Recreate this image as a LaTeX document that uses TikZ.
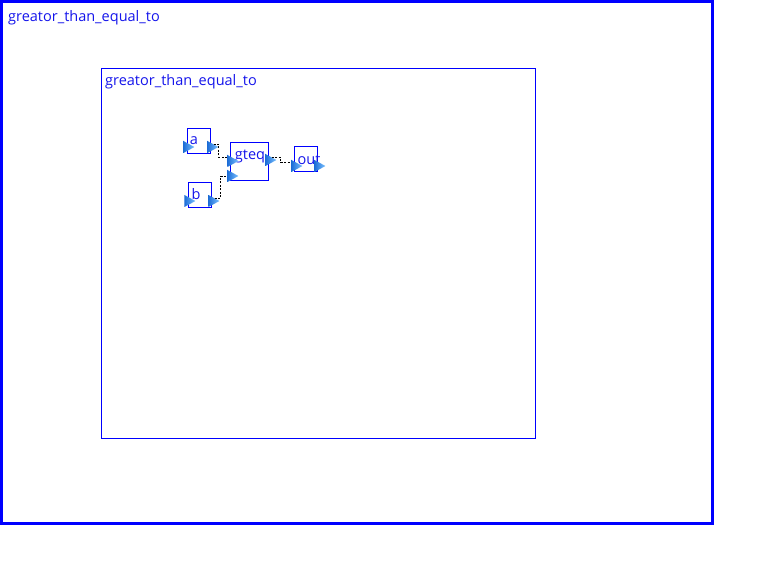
\documentclass[tikz,border=0pt]{standalone}
\usepackage{fontspec}
\setsansfont{Open Sans}
\usetikzlibrary{shapes.geometric}
\definecolor{lblue}{RGB}{20,20,235}
\definecolor{portdark}{RGB}{30,110,215}
\definecolor{portlight}{RGB}{125,195,255}

\begin{document}
\begin{tikzpicture}[x=1pt, y=-1pt,
                    every node/.style={font=\sffamily\fontsize{14.5}{16}\selectfont,
                                       text=lblue, inner sep=0pt},
                    blk/.style={draw=blue, line width=0.9pt, minimum width=#1},
                    port/.style={isosceles triangle, isosceles triangle stretches,
                                 shape border rotate=0, minimum width=12,
                                 minimum height=11, left color=portdark,
                                 right color=portlight},
                    wire/.style={draw=black, dashed, dash pattern=on 2pt off 1.5pt,
                                 line width=0.6pt}]
  \useasboundingbox (0,0) rectangle (764,577);
  \draw[blue, line width=3] (1.5,1.5) rectangle (712,524);
  \node[anchor=west] (title) at (8,18) {greator\_than\_equal\_to};
  \draw[blue, line width=0.9] (101.5,68.5) rectangle (535.5,438.5);
  \node[anchor=west] (subtitle) at (105,82) {greator\_than\_equal\_to};

  \node[blk=23, minimum height=25] (a) at (198.5,140.5) {};
  \node[blk=23, minimum height=25] (b) at (199.5,194.5) {};
  \node[blk=38, minimum height=38] (gteq) at (249,161) {};
  \node[blk=23, minimum height=25] (out) at (305.5,158.5) {};

  \node (atag) at (194,141) {a};
  \node (btag) at (196,194) {b};
  \node (gtag) at (250,156) {gteq};
  \node (otag) at (309,160) {out};

  \node[port] (ain) at (187,147) {};
  \node[port] (aout) at (211,147) {};
  \node[port] (bin) at (188,201) {};
  \node[port] (bout) at (212,201) {};
  \node[port] (gin1) at (231,161) {};
  \node[port] (gin2) at (231,176) {};
  \node[port] (gout) at (269,160) {};
  \node[port] (oin) at (295,166) {};
  \node[port] (oout) at (318,166) {};

  \draw[wire] (aout.north east) -- ++(5,0) |- (gin1.north west);
  \draw[wire] (bout.north east) -- ++(6,0) |- (gin2.west);
  \draw[wire] (gout.north east) -- ++(9,0) |- (oin.north west);
\end{tikzpicture}
\end{document}
